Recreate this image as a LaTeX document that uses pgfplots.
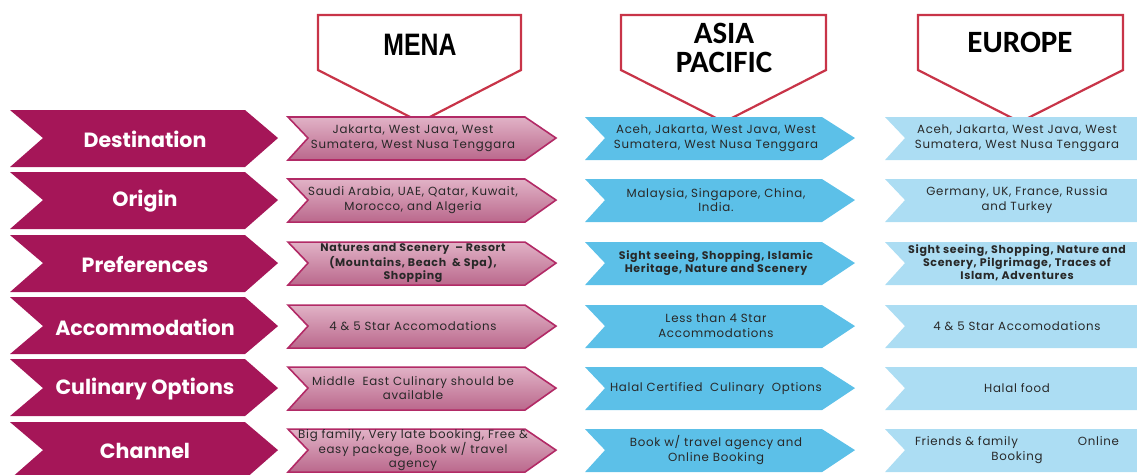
\documentclass[border=0pt]{standalone}
\usepackage{pgfplots}
\pgfplotsset{compat=1.18}
\usepackage{fontspec}
\setmainfont{Poppins}
\newfontfamily\headfont{Carlito}
\newfontfamily\menafont[FakeStretch=0.8]{Liberation Sans}
\newfontfamily\boxfont[LetterSpace=6]{Poppins}
\definecolor{mag}{RGB}{165,22,88}
\definecolor{magtop}{RGB}{225,178,198}
\definecolor{magbot}{RGB}{186,104,140}
\definecolor{magline}{RGB}{178,42,102}
\definecolor{asia}{RGB}{92,192,232}
\definecolor{eur}{RGB}{172,221,243}
\definecolor{headline}{RGB}{200,52,72}
\definecolor{boxtext}{RGB}{40,40,40}
% chevron: style, x-left, x-notch, x-body, x-tip, y-top, y-mid, y-bottom
\newcommand\chev[8]{\addplot[#1] coordinates {(#2,#6) (#4,#6) (#5,#7) (#4,#8) (#2,#8) (#3,#7)} -- cycle;}
\begin{document}
\begin{tikzpicture}
\begin{axis}[
  name=ax,
  scale only axis, width=568.5pt, height=237pt,
  xmin=0, xmax=1137, ymin=0, ymax=474, y dir=reverse,
  hide axis, clip=true,
]
% headers
\addplot[draw=headline,line width=1.1pt,fill=white] coordinates {(318,15) (521,15) (521,70) (420,122) (318,70)} -- cycle;
\addplot[draw=headline,line width=1.1pt,fill=white] coordinates {(621,15) (826,15) (826,70) (724,122) (621,70)} -- cycle;
\addplot[draw=headline,line width=1.1pt,fill=white] coordinates {(918,15) (1123,15) (1123,70) (1020,122) (918,70)} -- cycle;
% left labels
\chev{fill=mag,draw=none}{10}{43}{245}{278}{110}{138}{167}
\chev{fill=mag,draw=none}{10}{43}{245}{278}{172}{200}{229}
\chev{fill=mag,draw=none}{10}{43}{245}{278}{235}{263}{292}
\chev{fill=mag,draw=none}{10}{43}{245}{278}{297}{326}{354}
\chev{fill=mag,draw=none}{10}{43}{245}{278}{359}{388}{416}
\chev{fill=mag,draw=none}{10}{43}{245}{278}{422}{450}{479}
% MENA
\chev{draw=magline,line width=0.8pt,top color=magtop,bottom color=magbot}{288}{308}{525}{556}{117}{138}{160}
\chev{draw=magline,line width=0.8pt,top color=magtop,bottom color=magbot}{288}{308}{525}{556}{179}{200}{222}
\chev{draw=magline,line width=0.8pt,top color=magtop,bottom color=magbot}{288}{308}{525}{556}{242}{263}{285}
\chev{draw=magline,line width=0.8pt,top color=magtop,bottom color=magbot}{288}{308}{525}{556}{305}{326}{348}
\chev{draw=magline,line width=0.8pt,top color=magtop,bottom color=magbot}{288}{308}{525}{556}{367}{388}{410}
\chev{draw=magline,line width=0.8pt,top color=magtop,bottom color=magbot}{288}{308}{525}{556}{429}{450}{472}
% ASIA PACIFIC
\chev{fill=asia,draw=none}{585}{605}{822}{855}{117}{138}{160}
\chev{fill=asia,draw=none}{585}{605}{822}{855}{179}{200}{222}
\chev{fill=asia,draw=none}{585}{605}{822}{855}{242}{263}{285}
\chev{fill=asia,draw=none}{585}{605}{822}{855}{305}{326}{348}
\chev{fill=asia,draw=none}{585}{605}{822}{855}{367}{388}{410}
\chev{fill=asia,draw=none}{585}{605}{822}{855}{429}{450}{472}
% EUROPE
\chev{fill=eur,draw=none}{885}{905}{1137}{1137}{117}{138}{160}
\chev{fill=eur,draw=none}{885}{905}{1137}{1137}{179}{200}{222}
\chev{fill=eur,draw=none}{885}{905}{1137}{1137}{242}{263}{285}
\chev{fill=eur,draw=none}{885}{905}{1137}{1137}{305}{326}{348}
\chev{fill=eur,draw=none}{885}{905}{1137}{1137}{367}{388}{410}
\chev{fill=eur,draw=none}{885}{905}{1137}{1137}{429}{450}{472}
\end{axis}
\begin{axis}[
  scale only axis, width=568.5pt, height=237pt,
  xmin=0, xmax=1137, ymin=0, ymax=474, y dir=reverse,
  hide axis, clip=false,
  every node/.append style={inner sep=0pt},
]
\addplot[draw=none] coordinates {(0,0)};
% header text
\node[font=\menafont\bfseries\fontsize{15.5}{16}\selectfont] at (420,45) {MENA};
\node[font=\headfont\bfseries\fontsize{15.5}{14.5}\selectfont,align=center] at (724,48) {ASIA\\PACIFIC};
\node[font=\headfont\bfseries\fontsize{15.5}{16}\selectfont] at (1020,42) {EUROPE};
% left labels
\tikzset{lb/.style={font=\bfseries\fontsize{10.3}{11}\selectfont,text=white}}
\node[lb] at (145,139) {Destination};
\node[lb] at (145,201) {Origin};
\node[lb] at (145,264) {Preferences};
\node[lb] at (145,327) {Accommodation};
\node[lb] at (145,389) {Culinary Options};
\node[lb] at (145,451) {Channel};
% box text styles
\tikzset{bx/.style={font=\boxfont\fontsize{5.9}{7.4}\selectfont,text=boxtext,align=center}}
\tikzset{bxb/.style={font=\boxfont\bfseries\fontsize{5.5}{6.4}\selectfont,text=boxtext,align=center}}
% MENA text
\node[bx] at (413,138) {Jakarta, West Java, West\\Sumatera, West Nusa Tenggara};
\node[bx] at (413,200) {Saudi Arabia, UAE, Qatar, Kuwait,\\Morocco, and Algeria};
\node[bxb] at (413,263) {Natures and Scenery \ – Resort\\(Mountains, Beach \ \& Spa),\\Shopping};
\node[bx] at (413,326) {4 \& 5 Star Accomodations};
\node[bx] at (413,388) {Middle \ East Culinary should be\\available};
\node[bx] at (413,450) {Big family, Very late booking, Free \&\\easy package, Book w/ travel\\agency};
% ASIA text
\node[bx] at (716,138) {Aceh, Jakarta, West Java, West\\Sumatera, West Nusa Tenggara};
\node[bx] at (716,200) {Malaysia, Singapore, China,\\India.};
\node[bxb] at (716,263) {Sight seeing, Shopping, Islamic\\Heritage, Nature and Scenery};
\node[bx] at (716,326) {Less than 4 Star\\Accommodations};
\node[bx] at (716,388) {Halal Certified \ Culinary \ Options};
\node[bx] at (716,450) {Book w/ travel agency and\\Online Booking};
% EUROPE text
\node[bx] at (1017,138) {Aceh, Jakarta, West Java, West\\Sumatera, West Nusa Tenggara};
\node[bx] at (1017,200) {Germany, UK, France, Russia\\and Turkey};
\node[bxb] at (1017,263) {Sight seeing, Shopping, Nature and\\Scenery, Pilgrimage, Traces of\\Islam, Adventures};
\node[bx] at (1017,326) {4 \& 5 Star Accomodations};
\node[bx] at (1017,388) {Halal food};
\node[bx] at (1017,450) {Friends \& family\hspace{30pt}Online\\Booking};
\end{axis}
\pgfresetboundingbox
\path[use as bounding box] (ax.south west) rectangle (ax.north east);
\end{tikzpicture}
\end{document}
